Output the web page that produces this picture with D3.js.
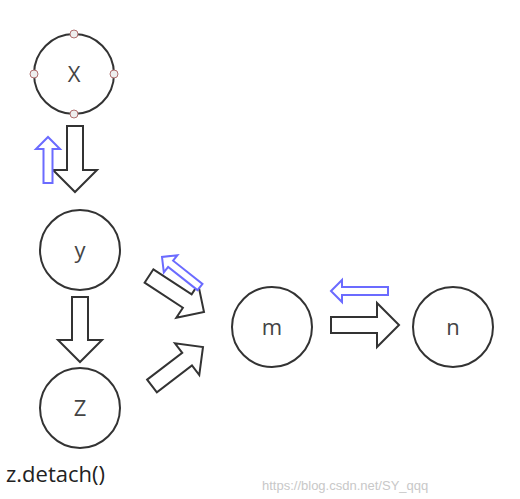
<!DOCTYPE html>
<html><head><meta charset="utf-8">
<script src="https://cdn.jsdelivr.net/npm/d3@7"></script>
<style>body{margin:0;background:#fff}</style>
</head><body>
<svg width="520" height="499"></svg>
<script>
const nodeNames = ["X", "y", "Z", "m", "n"];
const nodeX = [74, 80, 80, 272, 453];
const nodeY = [74, 250, 408, 327, 327];
// arrows: tail point, tip point, shaft half width, head half width, head length
const arrowFrom = [[75, 126], [48, 183], [80, 297], [149, 276], [200, 287], [152, 386], [331, 325], [388, 291]];
const arrowTo = [[75, 192], [48, 137], [80, 362], [204, 312], [162, 257], [203, 347], [399, 325], [331, 291]];
const arrowShaft = [8, 4.5, 8, 8, 4, 8, 8, 4];
const arrowHead = [22, 12, 22, 20, 11, 20, 22, 11];
const arrowHeadLen = [22, 12, 22, 20, 11, 20, 22, 11];
const arrowBlue = [false, true, false, false, true, false, false, true];

const svg = d3.select("svg");

const arrows = arrowFrom.map((f, i) => ({
  f, t: arrowTo[i], w: arrowShaft[i], h: arrowHead[i], hl: arrowHeadLen[i], blue: arrowBlue[i]
}));

svg.selectAll("path.arrow")
  .data(arrows)
  .enter()
  .append("path")
  .attr("class", "arrow")
  .attr("d", d => {
    const len = Math.hypot(d.t[0] - d.f[0], d.t[1] - d.f[1]);
    const s = len - d.hl;
    return `M0,${-d.w}L${s},${-d.w}L${s},${-d.h}L${len},0L${s},${d.h}L${s},${d.w}L0,${d.w}Z`;
  })
  .attr("transform", d => {
    const a = Math.atan2(d.t[1] - d.f[1], d.t[0] - d.f[0]) * 180 / Math.PI;
    return `translate(${d.f[0]},${d.f[1]}) rotate(${a})`;
  })
  .attr("fill", "#fff")
  .attr("stroke", d => d.blue ? "#6b6bff" : "#333")
  .attr("stroke-width", 2)
  .attr("stroke-linejoin", "miter");

const nodes = svg.selectAll("g.node")
  .data(nodeNames)
  .enter()
  .append("g")
  .attr("transform", (d, i) => `translate(${nodeX[i]},${nodeY[i]})`);

nodes.append("circle")
  .attr("r", 40)
  .attr("fill", "#fff")
  .attr("stroke", "#333")
  .attr("stroke-width", 2);

nodes.append("text")
  .attr("text-anchor", "middle")
  .attr("dy", "0.35em")
  .attr("font-family", "Open Sans, sans-serif")
  .attr("font-size", 22)
  .attr("fill", "#444")
  .text(d => d);

// handle points on X
const handles = [[0, -40], [40, 0], [0, 40], [-40, 0]];
svg.selectAll("circle.handle")
  .data(handles)
  .enter()
  .append("circle")
  .attr("cx", d => nodeX[0] + d[0])
  .attr("cy", d => nodeY[0] + d[1])
  .attr("r", 4)
  .attr("fill", "#eee")
  .attr("stroke", "#b07070")
  .attr("stroke-width", 1);

svg.append("text")
  .attr("x", 6).attr("y", 482)
  .attr("font-family", "Open Sans, sans-serif")
  .attr("font-size", 22)
  .attr("fill", "#222")
  .text("z.detach()");

svg.append("text")
  .attr("x", 262).attr("y", 490)
  .attr("font-family", "Liberation Sans, sans-serif")
  .attr("font-size", 13)
  .attr("fill", "#c8c8c8")
  .text("https://blog.csdn.net/SY_qqq");
</script>
</body></html>
